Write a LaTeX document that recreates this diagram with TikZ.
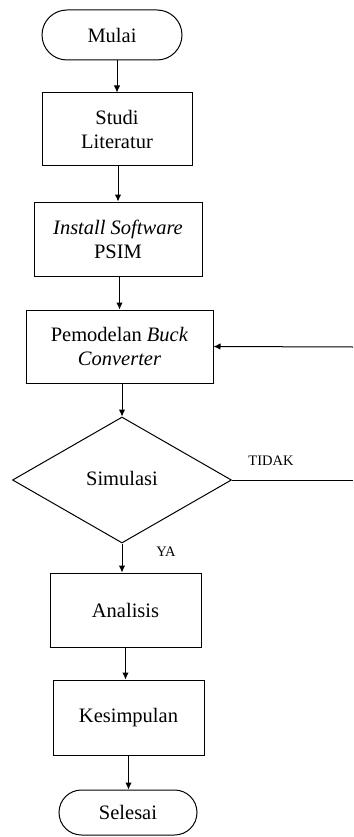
\documentclass[tikz,border=0pt]{standalone}
\usepackage{fontspec}
\setmainfont{Liberation Serif}
\usetikzlibrary{shapes.geometric,arrows.meta}
\begin{document}
\begin{tikzpicture}[x=1pt,y=-1pt,
  every node/.style={font=\fontsize{20.5}{24}\selectfont, align=center, inner sep=0pt},
  box/.style={draw, line width=1pt, rectangle},
  term/.style={draw, line width=1pt, rectangle},
  dec/.style={draw, line width=1pt, diamond},
  lab/.style={font=\fontsize{14.5}{17}\selectfont},
  arr/.style={line width=1pt, -{Latex[length=7pt,width=6.5pt]}},
  ln/.style={line width=1pt}]
\useasboundingbox (0,0) rectangle (353,837);
\node[term, rounded corners=25pt, minimum width=140pt, minimum height=50pt] (mulai) at (112,35) {Mulai};
\node[box, minimum width=150pt, minimum height=73pt] (studi) at (117,129.5) {Studi\\Literatur};
\node[box, minimum width=168pt, minimum height=74pt] (inst) at (118,239) {\textit{Install Software}\\PSIM};
\node[box, minimum width=187pt, minimum height=73pt] (pem) at (119.5,346.5) {Pemodelan \textit{Buck}\\\textit{Converter}};
\node[dec, minimum width=219pt, minimum height=126pt] (sim) at (122,480) {\raisebox{4pt}{Simulasi}};
\node[box, minimum width=151pt, minimum height=74pt] (ana) at (125.5,610) {Analisis};
\node[box, minimum width=151pt, minimum height=75pt] (kes) at (128.5,717.5) {Kesimpulan};
\node[term, rounded corners=22.5pt, minimum width=138pt, minimum height=45pt] (sel) at (128,812.5) {Selesai};
\node[lab] (tidak) at (271,461) {TIDAK};
\node[lab] (ya) at (166,552) {YA};
\coordinate (rA) at (353,347);
\coordinate (rB) at (353,480);
\draw[arr] (mulai.south -| studi.north) -- (studi.north);
\draw[arr] (studi.south -| inst.north) -- (inst.north);
\draw[arr] (inst.south -| pem.north) -- (pem.north);
\draw[arr] (pem.south -| sim.north) -- (sim.north);
\draw[arr] (sim.south) -- (sim.south |- ana.north);
\draw[arr] (ana.south) -- (ana.south |- kes.north);
\draw[arr] (kes.south) -- (kes.south |- sel.north);
\draw[ln] (sim.east) -- (rB);
\draw[arr] (rA) -- (pem.east);
\end{tikzpicture}
\end{document}
